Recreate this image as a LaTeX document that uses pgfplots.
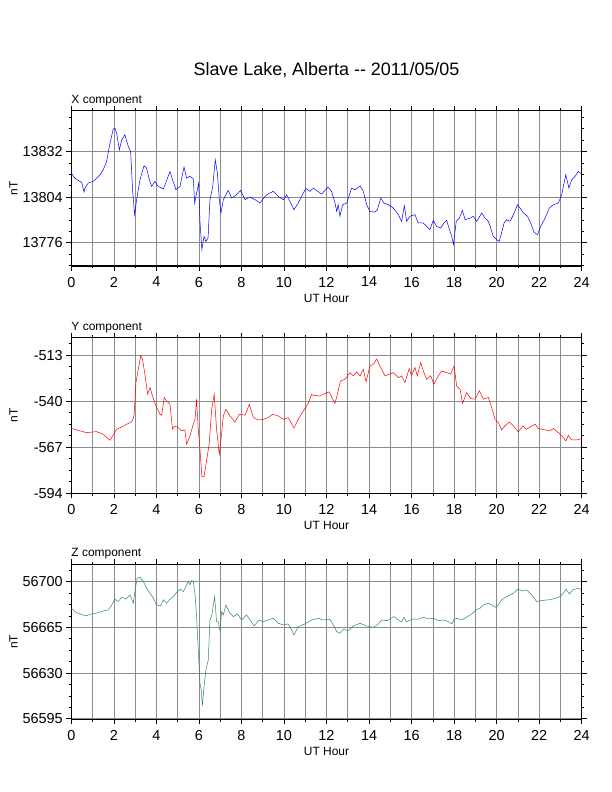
\documentclass[border=0pt]{standalone}
\usepackage{fontspec}
\setmainfont{Liberation Sans}
\usepackage{pgfplots}
\pgfplotsset{compat=1.18}
\definecolor{zgreen}{RGB}{46,139,87}
\tikzset{
  complabel/.style={anchor=base west, inner sep=0, font=\fontsize{12}{12}\selectfont, yshift=7.5bp},
  ntlabel/.style={rotate=90, anchor=center, inner sep=0, font=\fontsize{12}{12}\selectfont},
}
\pgfplotsset{
  magstyle/.style={
    scale only axis,
    width=510.4bp,
    anchor=south west,
    xmin=0, xmax=24,
    xtick={0,2,...,24},
    minor xtick={1,3,...,23},
    xmajorgrids, xminorgrids, ymajorgrids,
    grid style={black!45, line width=0.6bp},
    minor grid style={black!45, line width=0.6bp},
    tick align=outside,
    major tick length=5bp,
    minor tick length=2.5bp,
    every tick/.style={black, line width=0.6bp},
    axis line style={black, line width=1.4bp},
    tick label style={font=\fontsize{14.5}{14.5}\selectfont},
    xticklabel style={yshift=-2.5bp},
    scaled y ticks=false,
    yticklabel style={/pgf/number format/fixed, /pgf/number format/precision=0, /pgf/number format/1000 sep={}},
    /pgf/number format/assume math mode=true,
    xlabel={UT Hour},
    xlabel style={at={(axis description cs:0.5,0)}, anchor=base, yshift=-36.3bp, font=\fontsize{12}{12}\selectfont},
    clip mode=individual,
  },
}
\begin{document}
\begin{tikzpicture}
\path[use as bounding box] (0,0) rectangle (612bp,792bp);
\node[anchor=base, font=\fontsize{18}{18}\selectfont, inner sep=0] at (326.5bp,716bp) {Slave Lake, Alberta -{}- 2011/05/05};

% X component
\begin{axis}[magstyle, at={(71.3bp,526bp)}, height=155.3bp,
  ymin=13761.7, ymax=13857,
  ytick={13776,13804,13832},
  minor ytick={13762,13769,...,13853}]
\addplot[blue, line width=0.5bp] coordinates {
(0,13818.7)(0.17,13815.6)(0.33,13814.2)(0.49,13813)(0.6,13807)(0.64,13809.5)(0.8,13812.6)(1.03,13813.6)(1.19,13815.6)(1.35,13817.7)(1.5,13820.7)(1.66,13825.8)(1.82,13837)(1.97,13845.7)(2.05,13846.3)(2.13,13843.2)(2.26,13833)(2.37,13839)(2.52,13842.2)(2.68,13835)(2.79,13832)(2.88,13808.5)(2.98,13793.2)(3.07,13802.4)(3.23,13814.6)(3.42,13823.2)(3.54,13821.8)(3.67,13814.6)(3.78,13810.5)(3.93,13813.6)(4.09,13810.5)(4.33,13808.9)(4.48,13814.2)(4.64,13819.7)(4.76,13814.6)(4.92,13808.5)(5.11,13810.5)(5.3,13822.4)(5.42,13815.6)(5.58,13816.7)(5.74,13815)(5.8,13800.3)(5.86,13804.4)(5.99,13812.6)(6.05,13789)(6.14,13771.7)(6.24,13779.9)(6.33,13776.8)(6.43,13778.9)(6.52,13802.4)(6.65,13810.5)(6.77,13826.9)(6.87,13818.7)(6.96,13802.4)(7.04,13794.2)(7.15,13802.4)(7.38,13808.1)(7.54,13803.4)(7.77,13805.4)(7.96,13808.1)(8.17,13802.4)(8.4,13804)(8.64,13802.4)(8.87,13800.3)(9.11,13804.4)(9.26,13806)(9.5,13807.5)(9.73,13804.4)(9.97,13802.4)(10.13,13805.4)(10.36,13799.3)(10.47,13796.2)(10.67,13800.3)(10.91,13806.5)(11.03,13809.3)(11.22,13807.5)(11.38,13809.5)(11.77,13805.8)(12.07,13810.1)(12.24,13807.5)(12.4,13800.3)(12.48,13795.2)(12.55,13799.3)(12.63,13792.2)(12.76,13799.3)(12.95,13800.3)(13.18,13809.5)(13.34,13808.5)(13.45,13809.5)(13.58,13810.9)(13.73,13807.5)(13.89,13799.3)(14.04,13795.2)(14.28,13794.8)(14.39,13796.2)(14.55,13803.4)(14.7,13800.3)(14.91,13799.3)(15.14,13797.3)(15.38,13793.2)(15.53,13789.1)(15.66,13798.7)(15.77,13789.1)(15.92,13792.2)(16.16,13793.2)(16.31,13788.1)(16.55,13788.1)(16.71,13786)(16.86,13784)(17.02,13789.7)(17.18,13786)(17.37,13785)(17.52,13788.1)(17.65,13789.7)(17.78,13784)(17.89,13779.9)(17.97,13774.8)(18.1,13789.1)(18.25,13791.1)(18.39,13795.8)(18.52,13790.1)(18.75,13791.1)(18.9,13792.2)(19.06,13789.1)(19.3,13794.2)(19.45,13791.1)(19.61,13789.1)(19.72,13785)(19.84,13779.9)(20.0,13777.9)(20.12,13776.8)(20.23,13781.9)(20.35,13788.1)(20.47,13790.1)(20.63,13789.1)(20.79,13793.2)(20.98,13799.3)(21.1,13797.3)(21.26,13794.2)(21.45,13792.2)(21.6,13788.1)(21.76,13782.4)(21.92,13780.9)(22.07,13786)(22.28,13791.1)(22.48,13797.3)(22.67,13799.3)(22.9,13800.3)(23.06,13805.4)(23.25,13817.7)(23.4,13809.5)(23.53,13814.6)(23.69,13816.7)(23.84,13819.7)(24.0,13818.3)
};
\node[complabel] at (rel axis cs:0,1) {X component};
\node[ntlabel] at ([xshift=-57.8bp]rel axis cs:0,0.5) {nT};
\end{axis}

% Y component
\begin{axis}[magstyle, at={(71.3bp,298.7bp)}, height=155.6bp,
  ymin=-594, ymax=-502.7,
  ytick={-594,-567,-540,-513},
  minor ytick={-594,-587.25,...,-505}]
\addplot[red, line width=0.5bp] coordinates {
(0,-555.9)(0.41,-557.4)(0.72,-558.4)(1.19,-557.8)(1.5,-559.4)(1.82,-562.9)(2.13,-556.4)(2.37,-555.1)(2.6,-553.5)(2.84,-552.1)(2.95,-548.6)(3.04,-529)(3.15,-521.2)(3.26,-513.4)(3.35,-515.3)(3.46,-524.1)(3.59,-535.9)(3.7,-532)(3.82,-536.9)(3.98,-542.7)(4.17,-547.6)(4.25,-548.2)(4.37,-537.8)(4.48,-539.8)(4.64,-541.8)(4.76,-556.4)(4.87,-554.5)(5.03,-555.5)(5.19,-557.4)(5.34,-556.8)(5.42,-565.2)(5.58,-560.4)(5.71,-554.5)(5.82,-550.6)(5.89,-538.8)(5.97,-556.4)(6.05,-568.2)(6.14,-584.2)(6.24,-584.2)(6.36,-575)(6.49,-564.3)(6.6,-544.7)(6.72,-535.9)(6.83,-556.4)(6.96,-571.1)(7.04,-562.3)(7.15,-548.6)(7.27,-544.7)(7.46,-548.6)(7.7,-552.1)(7.9,-547.6)(8.17,-548.2)(8.37,-541.8)(8.56,-549.6)(8.79,-551)(9.03,-550.6)(9.26,-549.6)(9.47,-547.6)(9.73,-548.6)(9.97,-550.6)(10.2,-549.6)(10.47,-555.7)(10.67,-550.6)(10.91,-545.7)(11.14,-541.2)(11.3,-535.9)(11.38,-536.5)(11.69,-536.9)(11.85,-535.9)(12.13,-534.5)(12.29,-538.8)(12.4,-541.2)(12.51,-535.9)(12.66,-528.1)(12.87,-527.1)(13.1,-523.2)(13.26,-525.1)(13.42,-522.8)(13.58,-525.1)(13.73,-521.2)(13.86,-528.6)(14.04,-519.3)(14.2,-518.3)(14.36,-515.3)(14.51,-519.3)(14.75,-525.1)(14.95,-524.1)(15.14,-523.2)(15.38,-526.1)(15.53,-525.1)(15.69,-529)(15.89,-520.8)(16.0,-525.1)(16.16,-520.2)(16.27,-525.1)(16.43,-517.3)(16.55,-522.2)(16.71,-527.1)(16.9,-525.1)(17.05,-530)(17.21,-526.1)(17.41,-522.2)(17.65,-523.2)(17.84,-524.1)(18.0,-519.3)(18.12,-531)(18.28,-533)(18.4,-541.2)(18.59,-534.9)(18.78,-538.4)(18.98,-538.8)(19.19,-533.9)(19.38,-538.8)(19.61,-537.8)(19.77,-543.7)(19.92,-550.6)(20.08,-552.5)(20.23,-556.8)(20.39,-554.5)(20.6,-552.1)(20.79,-554.5)(21.02,-558)(21.23,-554.5)(21.41,-556.4)(21.65,-554.5)(21.81,-553.5)(21.96,-556)(22.28,-556.8)(22.51,-557.4)(22.67,-556)(22.9,-558.4)(23.14,-561.3)(23.26,-563.3)(23.37,-560)(23.53,-562.7)(23.76,-562.7)(24.0,-561.9)
};
\node[complabel] at (rel axis cs:0,1) {Y component};
\node[ntlabel] at ([xshift=-57.8bp]rel axis cs:0,0.5) {nT};
\end{axis}

% Z component
\begin{axis}[magstyle, at={(71.3bp,72.7bp)}, height=155bp,
  ymin=56594.6, ymax=56713.2,
  ytick={56595,56630,56665,56700},
  minor ytick={56595,56603.75,...,56710}]
\addplot[zgreen, line width=0.5bp] coordinates {
(0,56679.6)(0.17,56677)(0.41,56675.2)(0.69,56673.7)(0.96,56675.2)(1.27,56676.2)(1.58,56677.8)(1.74,56678.3)(1.9,56682.1)(2.05,56686.5)(2.21,56684.7)(2.37,56688)(2.57,56686.5)(2.76,56689.8)(2.92,56683.4)(3.0,56693.6)(3.1,56702.6)(3.23,56703.3)(3.39,56700)(3.54,56694.9)(3.7,56691.1)(3.86,56687.2)(4.01,56682.1)(4.2,56681.4)(4.33,56686)(4.48,56683.4)(4.64,56686.5)(4.8,56688.5)(4.98,56692.3)(5.14,56694.1)(5.27,56692.3)(5.39,56696.2)(5.5,56700)(5.58,56697.5)(5.66,56700.8)(5.74,56700)(5.82,56689.8)(5.89,56673.2)(5.97,56647.6)(6.05,56622.1)(6.11,56617)(6.16,56604.7)(6.24,56619.5)(6.33,56632.3)(6.44,56640)(6.52,56670.6)(6.61,56674.5)(6.74,56688.5)(6.83,56669.3)(6.91,56669.3)(6.99,56662.4)(7.07,56677)(7.15,56674.5)(7.27,56682.1)(7.46,56675.7)(7.62,56673.2)(7.81,56675.2)(8.01,56670.6)(8.24,56674.5)(8.43,56670.1)(8.59,56666)(8.84,56670.6)(9.03,56669.3)(9.26,56670.6)(9.5,56671.9)(9.73,56668.1)(9.97,56666.8)(10.2,56667.6)(10.36,56663)(10.47,56659.1)(10.67,56665.5)(10.99,56667.6)(11.3,56670.6)(11.62,56671.9)(11.85,56670.6)(12.16,56671.1)(12.32,56666.8)(12.48,56661.7)(12.63,56660.4)(12.79,56663.5)(13.03,56662.4)(13.26,56666)(13.58,56668.1)(13.89,56666)(14.2,56665)(14.39,56666.8)(14.6,56670.6)(14.86,56670.1)(15.17,56673.2)(15.38,56670.6)(15.53,56669.3)(15.64,56672.7)(15.77,56669.3)(16.08,56671.4)(16.31,56671.1)(16.55,56672.7)(16.79,56671.4)(17.02,56671.9)(17.26,56670.1)(17.49,56670.6)(17.73,56669.3)(17.89,56667.6)(18.0,56671.1)(18.15,56671.9)(18.36,56670.6)(18.59,56672.7)(18.83,56675.2)(19.03,56678.3)(19.22,56679.6)(19.38,56682.1)(19.61,56683.4)(19.77,56682.1)(19.92,56680.3)(20.08,56682.1)(20.23,56686)(20.47,56688.5)(20.79,56691.1)(20.98,56694.1)(21.19,56693.1)(21.41,56693.6)(21.65,56689.8)(21.88,56684.7)(22.12,56685.5)(22.43,56686)(22.74,56687)(22.98,56688.5)(23.14,56691.1)(23.26,56694.1)(23.42,56690.5)(23.57,56693.6)(23.84,56694.9)(24.0,56693.6)
};
\node[complabel] at (rel axis cs:0,1) {Z component};
\node[ntlabel] at ([xshift=-57.8bp]rel axis cs:0,0.5) {nT};
\end{axis}
\end{tikzpicture}
\end{document}
